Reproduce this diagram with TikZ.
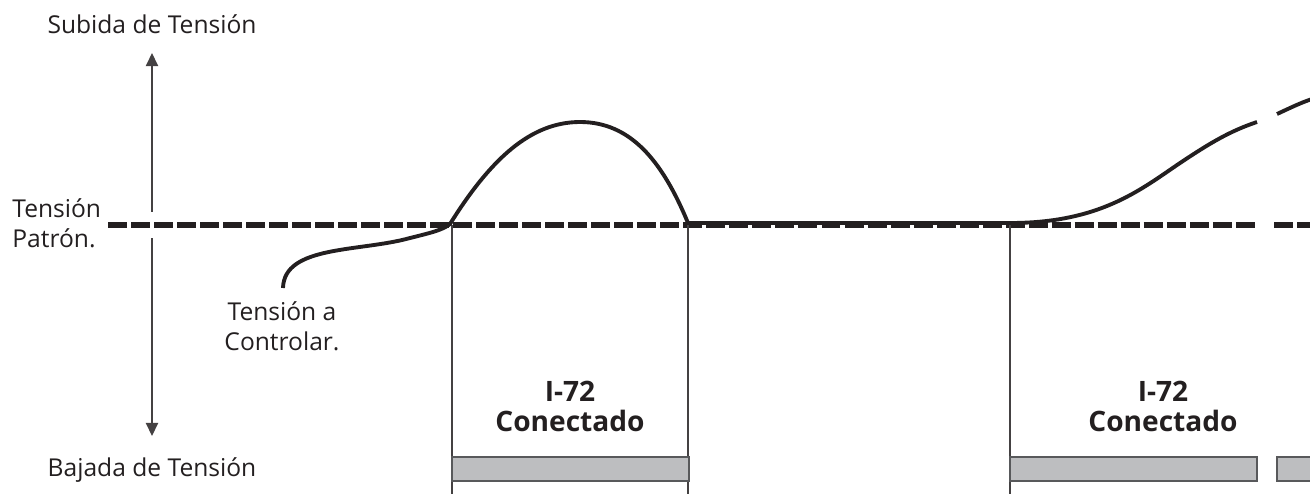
\documentclass[tikz,border=0pt]{standalone}
\usepackage{fontspec}
\setmainfont{Open Sans}
\usetikzlibrary{arrows.meta, positioning}
\definecolor{inkdark}{HTML}{231F20}
\definecolor{bargray}{HTML}{BDBEC0}
\definecolor{bardraw}{HTML}{58595B}

\begin{document}
\begin{tikzpicture}[x=0.02cm, y=-0.02cm,
  every node/.style={text=inkdark, inner sep=0pt, font=\fontsize{14}{17}\selectfont},
  tag/.style={font=\bfseries\fontsize{16}{17}\selectfont, align=center, anchor=base},
  refline/.style={line width=2.9pt, dash pattern=on 10.8pt off 2.3pt, inkdark},
  signal/.style={line width=2.2pt, inkdark},
  marker/.style={line width=0.8pt, inkdark!85},
  statebar/.style={fill=bargray, draw=bardraw, line width=0.6pt}]
\useasboundingbox (0,0) rectangle (1310,494);

% labels
\node[anchor=base] (rise) at (152,33) {Subida de Tensión};
\node[anchor=base] (fall) at (152,476) {Bajada de Tensión};
\node[anchor=base west, align=left] (patron) at (12,247) {Tensión\\Patrón.};
\node[anchor=base, align=center] (control) at (282,350) {Tensión a\\Controlar.};
\node[tag] (on1) at (570,431) {I-72\\Conectado};
\node[tag] (on2) at (1163,431) {I-72\\Conectado};

% axis arrow
\coordinate (top) at (152,53);
\coordinate (bot) at (152,436);
\coordinate (gapA) at (152,212);
\coordinate (gapB) at (152,238);
\draw[marker, {Triangle[width=7pt,length=7.5pt]}-] (top) -- (gapA);
\draw[marker, -{Triangle[width=7pt,length=7.5pt]}] (gapB) -- (bot);

% reference level
\draw[refline] (108,225) -- (1257,225);
\draw[refline] (1274,225) -- (1310,225);

% switching marks
\foreach \x in {452,688,1010}
  \draw[marker] (\x,225) -- (\x,494);
\draw[statebar] (452,457) rectangle (689,481);
\draw[statebar] (1010,457) rectangle (1257,481);
\draw[statebar] (1277,457) rectangle (1316,481);

% controlled voltage
\draw[signal] (283,288) .. controls (284,245) and (360,252) .. (410,238)
  .. controls (430,233) and (443,230) .. (450,224)
  .. controls (490,160) and (530,122) .. (580,122)
  .. controls (630,122) and (662,160) .. (688,223)
  -- (1010,223)
  .. controls (1100,223) and (1140,190) .. (1180,163)
  .. controls (1210,143) and (1230,131) .. (1257,122);
\draw[signal] (1277,114) .. controls (1290,108) and (1300,103) .. (1312,99);
\end{tikzpicture}
\end{document}
